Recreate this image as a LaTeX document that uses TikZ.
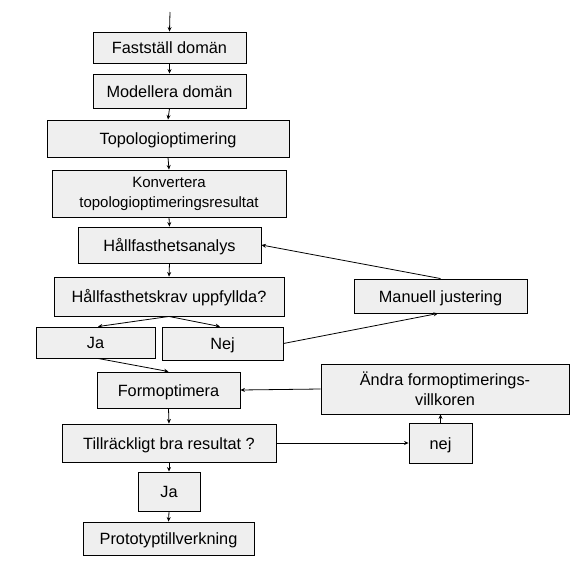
\documentclass[tikz,border=0pt]{standalone}
\usepackage{fontspec}
\setmainfont{Liberation Sans}
\usetikzlibrary{arrows.meta}
\definecolor{boxfill}{HTML}{EFEFEF}
\begin{document}
\begin{tikzpicture}[x=1pt,y=-1pt,
  flowbox/.style={draw=black,line width=0.9pt,fill=boxfill,inner sep=0pt,
    font=\fontsize{16.3}{20}\selectfont,align=center},
  onebox/.style={flowbox,text height=14.5pt,text depth=2pt},
  conn/.style={line width=0.8pt,-{Stealth[length=4.5pt,width=4pt]}}]
\useasboundingbox (0,0) rectangle (583,584);
\fill[white] (0,0) rectangle (583,584);
% boxes: centre at ((x1+x2)/2,(y1+y2)/2), size (x2-x1)x(y2-y1)
\node[onebox,minimum width=153pt,minimum height=31pt] (fast) at (169.5,47.5) {Fastställ domän};
\node[onebox,minimum width=153pt,minimum height=34pt] (mod) at (169.5,91) {Modellera domän};
\node[onebox,minimum width=242pt,minimum height=37pt] (topo) at (168,138.5) {Topologioptimering};
\node[flowbox,minimum width=234pt,minimum height=47pt,font=\fontsize{15}{20}\selectfont] (konv) at (169,193.5) {Konvertera\\topologioptimeringsresultat};
\node[onebox,minimum width=183pt,minimum height=36pt] (hall) at (169.5,245) {Hållfasthetsanalys};
\node[onebox,minimum width=230pt,minimum height=39pt] (krav) at (169,296.5) {Hållfasthetskrav uppfyllda?};
\node[onebox,minimum width=119pt,minimum height=31pt] (ja1) at (95.5,342.5) {Ja};
\node[onebox,minimum width=121pt,minimum height=33pt] (nej1) at (222.5,343.5) {Nej};
\node[onebox,minimum width=173pt,minimum height=34pt] (man) at (440.5,296) {Manuell justering};
\node[onebox,minimum width=143pt,minimum height=36pt] (form) at (168.5,390) {Formoptimera};
\node[flowbox,minimum width=248pt,minimum height=50pt] (andra) at (445,389) {Ändra formoptimerings-\\villkoren};
\node[onebox,minimum width=214pt,minimum height=38pt] (till) at (169,443) {Tillräckligt bra resultat ?};
\node[onebox,minimum width=63pt,minimum height=40pt] (nej2) at (440.5,443) {nej};
\node[onebox,minimum width=62pt,minimum height=39pt] (ja2) at (169,491.5) {Ja};
\node[onebox,minimum width=171pt,minimum height=33pt] (proto) at (168.5,538.5) {Prototyptillverkning};
\coordinate (start) at (170,12);
% connectors
\draw[conn] (start) -- (fast.north);
\draw[conn] (fast.south) -- (mod.north);
\draw[conn] (mod.south) -- (topo.north);
\draw[conn] (topo.south) -- (konv.north);
\draw[conn] (konv.south) -- (hall.north);
\draw[conn] (hall.south) -- (krav.north);
\draw[conn] (krav.south) -- ([xshift=2.5pt]ja1.north);
\draw[conn] (krav.south) -- ([xshift=-2.5pt]nej1.north);
\draw[conn] ([xshift=2.5pt]ja1.south) -- (form.north);
\draw[conn] (nej1.east) -- ([xshift=-2.5pt]man.south);
\draw[conn] (man.north) -- (hall.east);
\draw[conn] (andra.west) -- (form.east);
\draw[conn] (form.south) -- (till.north);
\draw[conn] (till.east) -- (nej2.west);
\draw[conn] (nej2.north) -- (nej2.north |- andra.south);
\draw[conn] (till.south) -- (ja2.north);
\draw[conn] (ja2.south) -- (proto.north);
\end{tikzpicture}
\end{document}
